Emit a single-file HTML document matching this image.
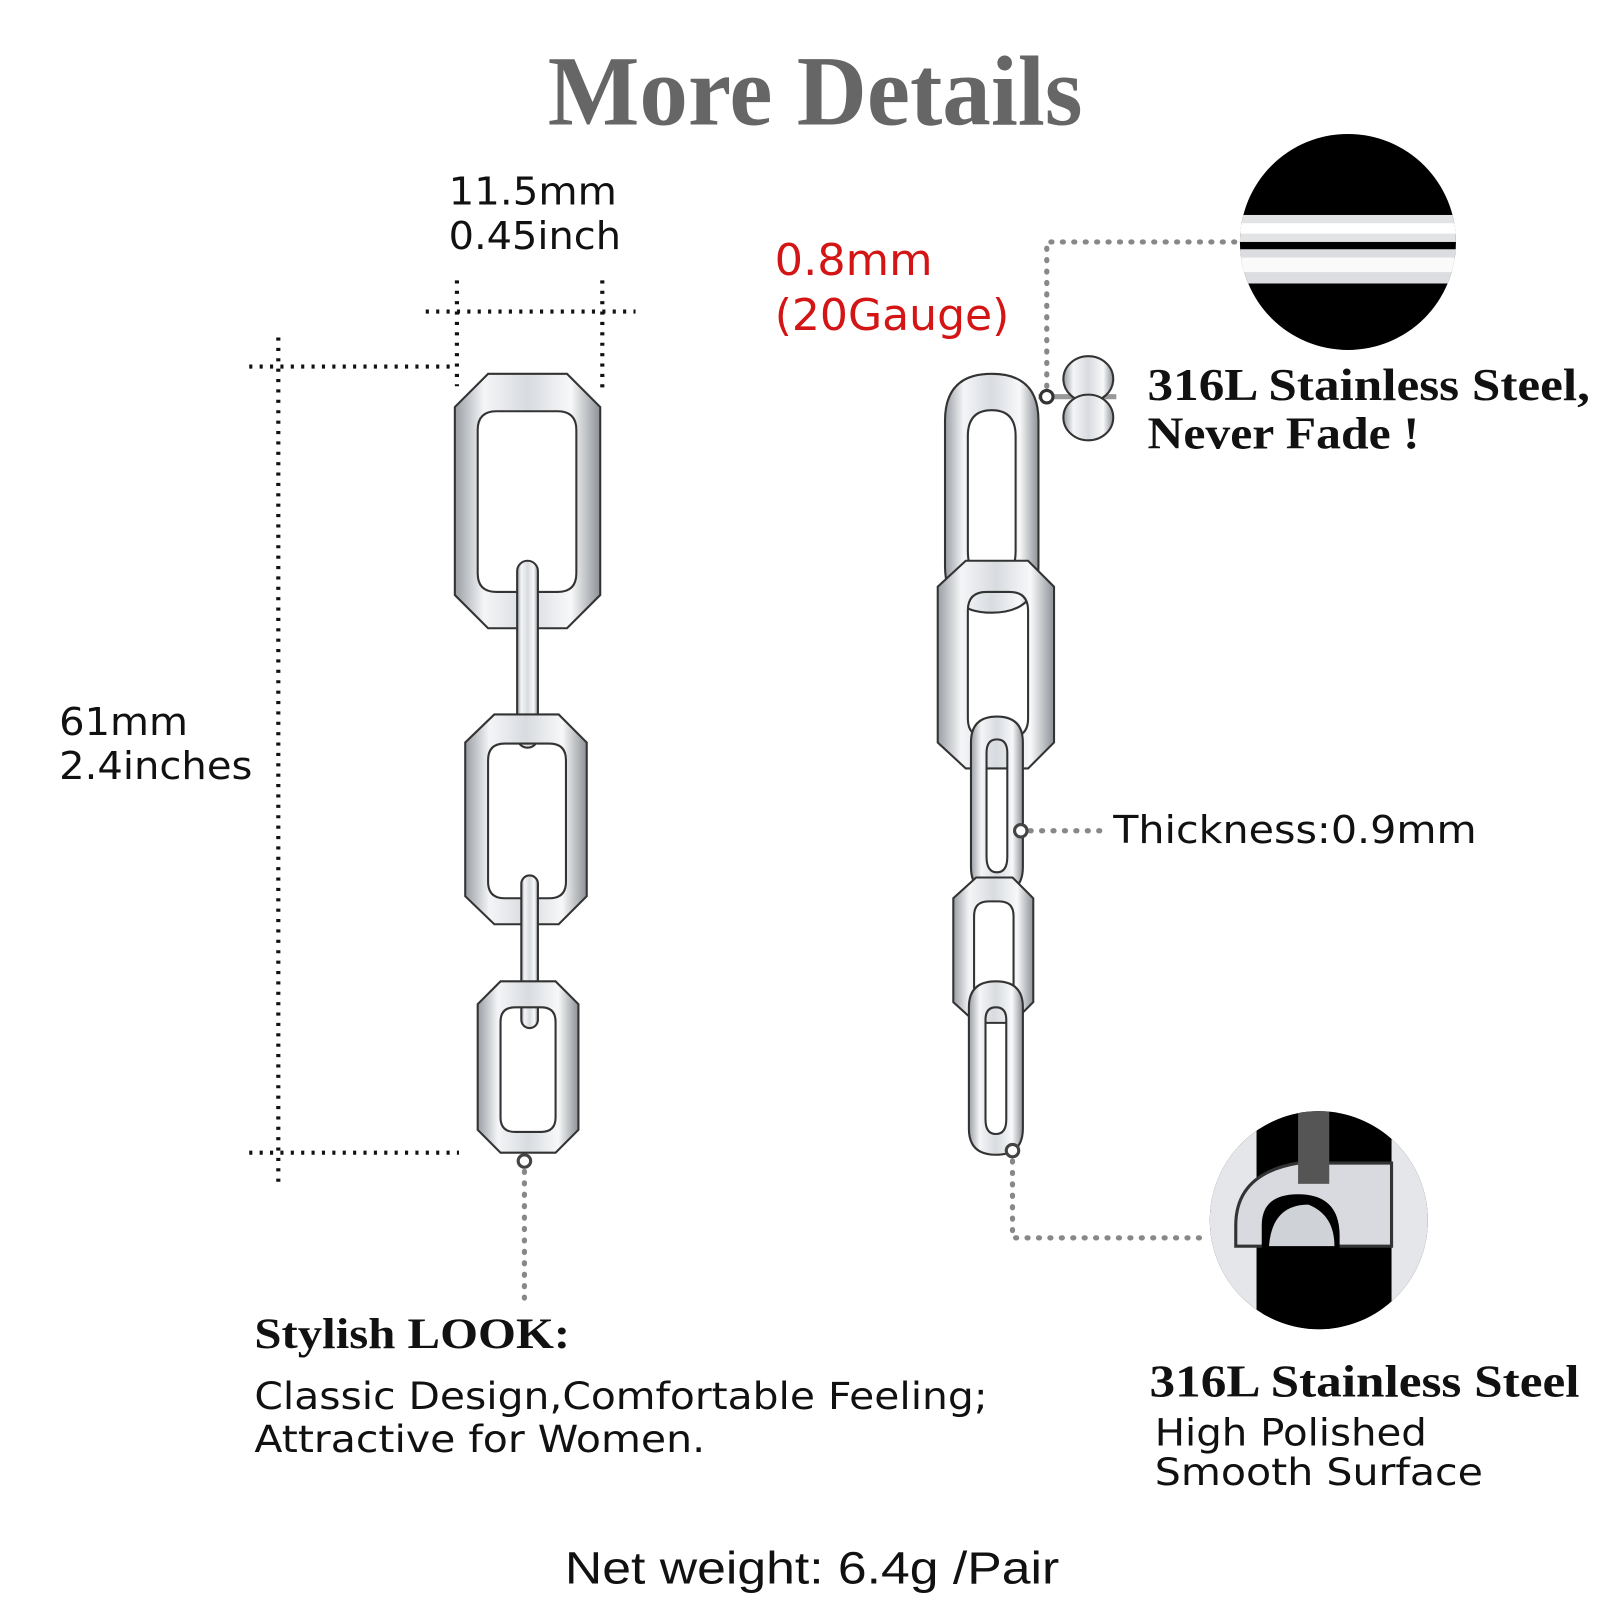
<!DOCTYPE html>
<html><head><meta charset="utf-8"><style>html,body{margin:0;padding:0;background:#fff}svg{display:block}</style></head>
<body>
<svg width="1620" height="1620" viewBox="0 0 1560 1560" xmlns="http://www.w3.org/2000/svg">
<defs>
<linearGradient id="met" x1="0" y1="0" x2="1" y2="0">
<stop offset="0" stop-color="#9a9ea4"/><stop offset="0.2" stop-color="#f4f5f7"/><stop offset="0.5" stop-color="#d8dbdf"/><stop offset="0.8" stop-color="#f7f8f9"/><stop offset="1" stop-color="#8d9197"/>
</linearGradient>
<clipPath id="c1"><circle cx="1298" cy="233" r="104"/></clipPath>
<clipPath id="c2"><circle cx="1270" cy="1175" r="105"/></clipPath>
</defs>
<g font-family="'Liberation Serif',serif" font-weight="bold">
<text x="785" y="120" font-size="96" fill="#666" text-anchor="middle" textLength="515" lengthAdjust="spacingAndGlyphs">More Details</text>
</g>
<!-- dotted lines -->
<g stroke="#111" stroke-width="4" stroke-dasharray="3 7" fill="none">
<line x1="410" y1="300" x2="612" y2="300"/>
<line x1="440" y1="270" x2="440" y2="372"/>
<line x1="580" y1="270" x2="580" y2="376"/>
<line x1="240" y1="353" x2="440" y2="353"/>
<line x1="240" y1="1110" x2="442" y2="1110"/>
<line x1="268" y1="325" x2="268" y2="1142"/>
</g>
<g stroke="#888" stroke-width="5" stroke-dasharray="1 10" stroke-linecap="round" fill="none">
<line x1="505" y1="1128" x2="505" y2="1250"/>
<polyline points="1008,372 1008,233 1190,233"/>
<line x1="992" y1="800" x2="1060" y2="800"/>
<polyline points="975,1118 975,1192 1155,1192"/>
</g>
<!-- left chain -->
<g stroke="#333" stroke-width="2" fill="url(#met)">
<path fill-rule="evenodd" d="M470 360 H546 L578 392 V573 L546 605 H470 L438 573 V392 Z M478 396 Q460 396 460 414 V552 Q460 570 478 570 H537 Q555 570 555 552 V414 Q555 396 537 396 Z"/>
<rect x="498" y="540" width="20" height="180" rx="10"/>
<path fill-rule="evenodd" d="M476 688 H538 L565 715 V863 L538 890 H476 L448 863 V715 Z M486 716 Q470 716 470 732 V849 Q470 865 486 865 H529 Q545 865 545 849 V732 Q545 716 529 716 Z"/>
<rect x="502" y="843" width="16" height="147" rx="8"/>
<path fill-rule="evenodd" d="M482 945 H535 L557 967 V1088 L535 1110 H482 L460 1088 V967 Z M496 970 Q482 970 482 984 V1076 Q482 1090 496 1090 H521 Q535 1090 535 1076 V984 Q535 970 521 970 Z"/>
</g>
<circle cx="505" cy="1118" r="6" fill="#fff" stroke="#444" stroke-width="3"/>
<!-- right chain -->
<g stroke="#333" stroke-width="2" fill="url(#met)">
<path fill-rule="evenodd" d="M955 360 Q1000 360 1000 405 V545 Q1000 590 955 590 Q910 590 910 545 V405 Q910 360 955 360 Z M955 395 Q932 395 932 420 V530 Q932 560 955 560 Q978 560 978 530 V420 Q978 395 955 395 Z"/>
<path fill-rule="evenodd" d="M930 540 H990 L1015 565 V715 L990 740 H930 L903 715 V565 Z M950 570 Q932 570 932 588 V692 Q932 710 950 710 H972 Q990 710 990 692 V588 Q990 570 972 570 Z"/>
<path fill-rule="evenodd" d="M960 690 Q985 690 985 715 V835 Q985 860 960 860 Q935 860 935 835 V715 Q935 690 960 690 Z M960 712 Q950 712 950 725 V825 Q950 840 960 840 Q970 840 970 825 V725 Q970 712 960 712 Z"/>
<path fill-rule="evenodd" d="M940 845 H975 L995 865 V965 L975 985 H940 L918 965 V865 Z M952 868 Q938 868 938 882 V950 Q938 965 952 965 H962 Q976 965 976 950 V882 Q976 868 962 868 Z"/>
<path fill-rule="evenodd" d="M959 945 Q985 945 985 970 V1087 Q985 1112 959 1112 Q933 1112 933 1087 V970 Q933 945 959 945 Z M959 970 Q949 970 949 982 V1078 Q949 1092 959 1092 Q969 1092 969 1078 V982 Q969 970 959 970 Z"/>
<line x1="1000" y1="382" x2="1075" y2="382" stroke-width="5" stroke="#999"/>
<ellipse cx="1048" cy="365" rx="24" ry="22"/>
<ellipse cx="1048" cy="402" rx="24" ry="22"/>
</g>
<circle cx="1008" cy="382" r="6" fill="#fff" stroke="#333" stroke-width="3"/>
<circle cx="983" cy="800" r="6" fill="#fff" stroke="#444" stroke-width="3"/>
<circle cx="975" cy="1108" r="6" fill="#fff" stroke="#444" stroke-width="3"/>
<!-- top circle -->
<circle cx="1298" cy="233" r="104" fill="#000"/>
<g clip-path="url(#c1)">
<rect x="1190" y="207" width="220" height="26" fill="#e2e3e5"/>
<rect x="1190" y="215" width="220" height="10" fill="#fff"/>
<rect x="1190" y="240" width="220" height="33" fill="#dcdde0"/>
<rect x="1190" y="248" width="220" height="14" fill="#fafafa"/>
</g>
<!-- bottom circle -->
<circle cx="1270" cy="1175" r="105" fill="#000"/>
<g clip-path="url(#c2)">
<rect x="1160" y="1060" width="50" height="240" fill="#e4e6ea"/>
<rect x="1340" y="1060" width="50" height="240" fill="#e4e6ea"/>
<path d="M1190 1180 Q1190 1130 1250 1120 H1340 V1200 H1190 Z" fill="#d8dadf" stroke="#333" stroke-width="3"/>
<path d="M1215 1280 V1180 Q1215 1150 1250 1150 Q1290 1150 1290 1190 V1280 Z" fill="#000"/>
<path d="M1222 1200 Q1225 1160 1260 1160 Q1285 1170 1285 1200 Z" fill="#cfd2d6"/>
<rect x="1250" y="1070" width="30" height="70" fill="#555"/>
</g>
<!-- texts -->
<g font-family="'DejaVu Sans',sans-serif" font-size="37" fill="#111">
<text x="432" y="197" textLength="162" lengthAdjust="spacingAndGlyphs">11.5mm</text>
<text x="432" y="240" textLength="166" lengthAdjust="spacingAndGlyphs">0.45inch</text>
<text x="57" y="708" textLength="124" lengthAdjust="spacingAndGlyphs">61mm</text>
<text x="57" y="750" textLength="186" lengthAdjust="spacingAndGlyphs">2.4inches</text>
<text x="1072" y="812" textLength="350" lengthAdjust="spacingAndGlyphs">Thickness:0.9mm</text>
<text x="746" y="265" font-size="42" fill="#d41515" textLength="152" lengthAdjust="spacingAndGlyphs">0.8mm</text>
<text x="746" y="318" font-size="42" fill="#d41515" textLength="226" lengthAdjust="spacingAndGlyphs">(20Gauge)</text>
<text x="245" y="1357" font-size="36" textLength="706" lengthAdjust="spacingAndGlyphs">Classic Design,Comfortable Feeling;</text>
<text x="245" y="1398" font-size="36" textLength="434" lengthAdjust="spacingAndGlyphs">Attractive for Women.</text>
<text x="1112" y="1392" font-size="36" textLength="262" lengthAdjust="spacingAndGlyphs">High Polished</text>
<text x="1112" y="1430" font-size="36" textLength="316" lengthAdjust="spacingAndGlyphs">Smooth Surface</text>
</g>
<g font-family="'Liberation Serif',serif" font-weight="bold" font-size="44" fill="#111">
<text x="1105" y="385" textLength="426" lengthAdjust="spacingAndGlyphs">316L Stainless Steel,</text>
<text x="1105" y="432" textLength="262" lengthAdjust="spacingAndGlyphs">Never Fade !</text>
<text x="245" y="1298" font-size="42" textLength="304" lengthAdjust="spacingAndGlyphs">Stylish LOOK:</text>
<text x="1107" y="1345" textLength="414" lengthAdjust="spacingAndGlyphs">316L Stainless Steel</text>
</g>
<text x="544" y="1525" font-family="'Liberation Sans',sans-serif" font-size="44" fill="#111" textLength="476" lengthAdjust="spacingAndGlyphs">Net weight: 6.4g /Pair</text>
</svg>
</body></html>
